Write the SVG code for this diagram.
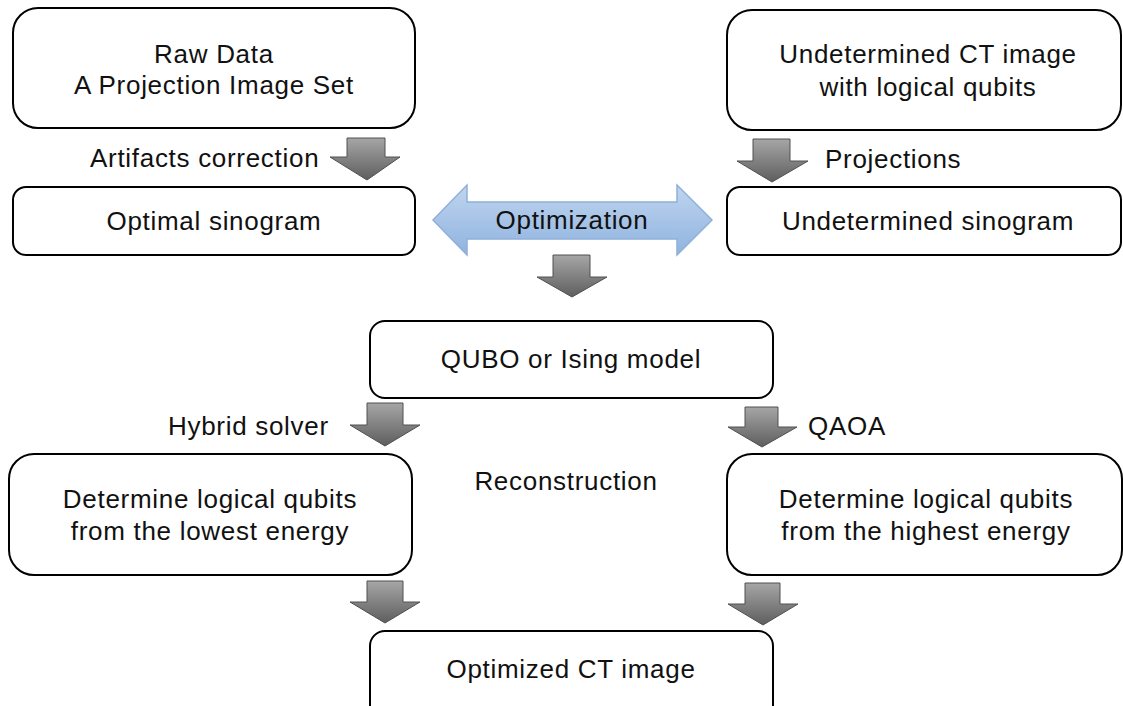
<svg xmlns="http://www.w3.org/2000/svg" width="1123" height="706" viewBox="0 0 1123 706">
<defs>
<linearGradient id="gray" x1="0" y1="0" x2="0" y2="1">
<stop offset="0" stop-color="#a6a6a6"/>
<stop offset="1" stop-color="#5e5e5e"/>
</linearGradient>
<linearGradient id="blue" x1="0" y1="0" x2="0" y2="1">
<stop offset="0" stop-color="#c0d5ee"/>
<stop offset="1" stop-color="#8fb3e0"/>
</linearGradient>
</defs>
<style>
.box{fill:#fff;stroke:#000;stroke-width:2}
.t{font-family:"Liberation Sans",Arial,sans-serif;font-size:26px;letter-spacing:0.7px;fill:#111;text-anchor:middle}
.l{font-family:"Liberation Sans",Arial,sans-serif;font-size:26px;letter-spacing:0.7px;fill:#111}
.ga{fill:url(#gray);stroke:#505050;stroke-width:1}
</style>
<rect width="1123" height="706" fill="#fff"/>
<g id="raw">
<rect class="box" x="13" y="8" width="402" height="120" rx="25"/>
<text class="t" x="214" y="63">Raw Data</text>
<text class="t" x="214" y="94">A Projection Image Set</text>
</g>
<g id="optimal">
<rect class="box" x="13" y="187" width="402" height="68" rx="13"/>
<text class="t" x="214" y="230">Optimal sinogram</text>
</g>
<g id="undetCT">
<rect class="box" x="727" y="10" width="394" height="120" rx="25"/>
<text class="t" x="928" y="63">Undetermined CT image</text>
<text class="t" x="928" y="96">with logical qubits</text>
</g>
<g id="undetSino">
<rect class="box" x="727" y="187" width="394" height="68" rx="13"/>
<text class="t" x="928" y="230">Undetermined sinogram</text>
</g>
<g id="qubo">
<rect class="box" x="370" y="321" width="403" height="77" rx="15"/>
<text class="t" x="571" y="368">QUBO or Ising model</text>
</g>
<g id="lowest">
<rect class="box" x="9" y="454" width="403" height="121" rx="25"/>
<text class="t" x="210" y="508">Determine logical qubits</text>
<text class="t" x="210" y="540">from the lowest energy</text>
</g>
<g id="highest">
<rect class="box" x="727" y="454" width="395" height="121" rx="25"/>
<text class="t" x="926" y="508">Determine logical qubits</text>
<text class="t" x="926" y="540">from the highest energy</text>
</g>
<g id="optimizedCT">
<rect class="box" x="370" y="631" width="403" height="90" rx="15"/>
<text class="t" x="571" y="678">Optimized CT image</text>
</g>
<g id="connectors">
<path class="ga" d="M347,138 H385 V157 H400 L367,180 L330,157 H347 Z"/>
<text class="l" x="90" y="167">Artifacts correction</text>
<path class="ga" d="M753,139 H790 V161 H808 L772,182 L737,161 H753 Z"/>
<text class="l" x="825" y="168">Projections</text>
<path d="M433,220 L467,185 V202 H677 V185 L712,220 L677,255 V239 H467 V255 Z" fill="url(#blue)" stroke="#8eb0da" stroke-width="1.5"/>
<text class="t" x="572" y="229">Optimization</text>
<path class="ga" d="M553,255 H590 V277 H607 L572,297 L537,277 H553 Z"/>
<path class="ga" d="M367,403 H403 V425 H420 L385,446 L350,425 H367 Z"/>
<text class="l" x="168" y="435">Hybrid solver</text>
<path class="ga" d="M745,407 H778 V427 H797 L762,447 L728,427 H745 Z"/>
<text class="l" x="808" y="435">QAOA</text>
<text class="t" x="566" y="490">Reconstruction</text>
<path class="ga" d="M367,581 H403 V602 H420 L385,623 L350,602 H367 Z"/>
<path class="ga" d="M745,583 H780 V604 H798 L763,625 L728,604 H745 Z"/>
</g>
</svg>
